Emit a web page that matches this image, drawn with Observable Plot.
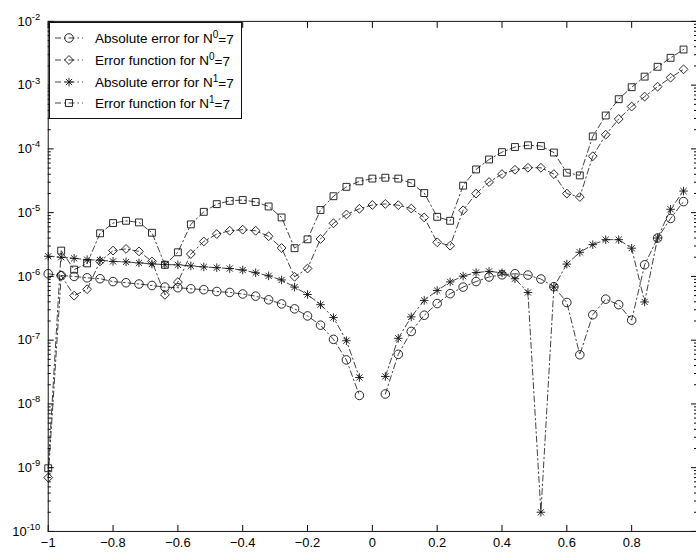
<!DOCTYPE html>
<html>
<head>
<meta charset="utf-8">
<script src="https://cdn.jsdelivr.net/npm/d3@7"></script>
<script src="https://cdn.jsdelivr.net/npm/@observablehq/plot@0.6"></script>
<style>
html, body { margin: 0; padding: 0; overflow: hidden; background: #fff; }
#wrap { position: relative; width: 696px; height: 555px; overflow: hidden; }
#wrap svg { display: block; }
</style>
</head>
<body>
<div id="wrap"></div>
<script>
// ---- data ----
const xValues = [-1, -0.96, -0.92, -0.88, -0.84, -0.8, -0.76, -0.72, -0.68, -0.64,
  -0.6, -0.56, -0.52, -0.48, -0.44, -0.4, -0.36, -0.32, -0.28, -0.24,
  -0.2, -0.16, -0.12, -0.08, -0.04, 0, 0.04, 0.08, 0.12, 0.16,
  0.2, 0.24, 0.28, 0.32, 0.36, 0.4, 0.44, 0.48, 0.52, 0.56,
  0.6, 0.64, 0.68, 0.72, 0.76, 0.8, 0.84, 0.88, 0.92, 0.96];

const absErrN0 = [1.10e-6, 1.03e-6, 1.00e-6, 9.5e-7, 9.2e-7, 8.3e-7, 7.96e-7, 7.6e-7, 7.2e-7, 6.8e-7,
  6.65e-7, 6.4e-7, 6.2e-7, 5.8e-7, 5.6e-7, 5.3e-7, 4.9e-7, 4.3e-7, 3.7e-7, 3.1e-7,
  2.4e-7, 1.72e-7, 1.03e-7, 4.9e-8, 1.36e-8, null, 1.43e-8, 6.0e-8, 1.37e-7, 2.46e-7,
  3.75e-7, 5.36e-7, 6.8e-7, 8.3e-7, 9.8e-7, 1.06e-6, 1.10e-6, 1.05e-6, 9.1e-7, 6.9e-7,
  3.9e-7, 5.9e-8, 2.5e-7, 4.4e-7, 3.6e-7, 2.06e-7, 1.52e-6, 4.0e-6, 8.1e-6, 1.49e-5];

const errFnN0 = [7.0e-10, 1.04e-6, 4.99e-7, 6.3e-7, 1.72e-6, 2.54e-6, 2.70e-6, 2.47e-6, 1.72e-6, 5.14e-7,
  8.16e-7, 2.25e-6, 3.53e-6, 4.62e-6, 5.20e-6, 5.40e-6, 5.20e-6, 4.26e-6, 2.79e-6, 9.87e-7,
  1.33e-6, 3.86e-6, 6.81e-6, 9.37e-6, 1.15e-5, 1.32e-5, 1.37e-5, 1.31e-5, 1.16e-5, 8.41e-6,
  3.43e-6, 3.03e-6, 1.09e-5, 1.99e-5, 3.02e-5, 4.02e-5, 4.71e-5, 5.06e-5, 5.06e-5, 4.02e-5,
  1.99e-5, 1.76e-5, 7.67e-5, 1.67e-4, 2.94e-4, 4.61e-4, 6.61e-4, 9.46e-4, 1.31e-3, 1.77e-3];

const absErrN1 = [2.07e-6, 2.0e-6, 1.92e-6, 1.83e-6, 1.80e-6, 1.72e-6, 1.69e-6, 1.63e-6, 1.57e-6, 1.53e-6,
  1.52e-6, 1.46e-6, 1.41e-6, 1.37e-6, 1.33e-6, 1.26e-6, 1.14e-6, 1.02e-6, 8.8e-7, 6.8e-7,
  5.2e-7, 3.6e-7, 2.26e-7, 9.8e-8, 2.6e-8, null, 2.7e-8, 1.07e-7, 2.32e-7, 4.2e-7,
  6.0e-7, 8.2e-7, 1.01e-6, 1.15e-6, 1.20e-6, 1.14e-6, 9.2e-7, 5.6e-7, 2.0e-10, 6.8e-7,
  1.56e-6, 2.39e-6, 3.15e-6, 3.77e-6, 3.77e-6, 2.77e-6, 3.98e-7, 4.0e-6, 1.13e-5, 2.18e-5];

const errFnN1 = [9.8e-10, 2.54e-6, 1.28e-6, 1.60e-6, 4.74e-6, 6.86e-6, 7.45e-6, 7.03e-6, 4.84e-6, 1.52e-6,
  2.39e-6, 6.55e-6, 1.03e-5, 1.36e-5, 1.53e-5, 1.58e-5, 1.47e-5, 1.25e-5, 8.41e-6, 2.77e-6,
  3.82e-6, 1.10e-5, 1.81e-5, 2.54e-5, 3.10e-5, 3.42e-5, 3.53e-5, 3.42e-5, 2.91e-5, 2.03e-5,
  8.6e-6, 7.45e-6, 2.65e-5, 4.76e-5, 6.82e-5, 8.9e-5, 1.07e-4, 1.14e-4, 1.11e-4, 8.77e-5,
  4.23e-5, 3.84e-5, 1.57e-4, 3.34e-4, 6.02e-4, 9.27e-4, 1.36e-3, 1.94e-3, 2.68e-3, 3.62e-3];

const legendLabels = [
  ["Absolute error for N", "0", "=7"],
  ["Error function for N", "0", "=7"],
  ["Absolute error for N", "1", "=7"],
  ["Error function for N", "1", "=7"]
];
const xTicks = [-1, -0.8, -0.6, -0.4, -0.2, 0, 0.2, 0.4, 0.6, 0.8];
const yExponents = [-10, -9, -8, -7, -6, -5, -4, -3, -2];

// ---- helpers ----
const asterisk8 = {
  draw(ctx, size) {
    const r = Math.sqrt(size / Math.PI) * 1.05;
    const d = r * 0.72;
    ctx.moveTo(-r, 0); ctx.lineTo(r, 0);
    ctx.moveTo(0, -r); ctx.lineTo(0, r);
    ctx.moveTo(-d, -d); ctx.lineTo(d, d);
    ctx.moveTo(-d, d); ctx.lineTo(d, -d);
  }
};
const seriesDefs = [
  {values: absErrN0, symbol: "circle", r: 4.3},
  {values: errFnN0, symbol: "diamond2", r: 4.0},
  {values: absErrN1, symbol: asterisk8, r: 4.1},
  {values: errFnN1, symbol: "square", r: 3.9}
];
const rows = seriesDefs.map((s, si) =>
  xValues.map((x, i) => ({x, y: s.values[i], s: si})).filter(d => d.y != null || true));

const yMajor = yExponents.map(e => Math.pow(10, e));
const yMinor = [];
for (const e of yExponents.slice(0, -1)) for (let k = 2; k <= 9; k++) yMinor.push(k * Math.pow(10, e));

const fmtX = d => (d < 0 ? "\u2212" : "") + Math.abs(d);
const fmtY = d => "10^" + Math.round(Math.log10(d));
const dash = "6,3,1.5,3";
const ink = "#111";

const marks = [
  Plot.axisX({anchor: "bottom", ticks: xTicks, tickSize: 0, tickPadding: 6, tickFormat: fmtX, label: null}),
  Plot.axisX({anchor: "bottom", ticks: xTicks, tickSize: -6, tickFormat: () => "", label: null}),
  Plot.axisX({anchor: "top", ticks: xTicks, tickSize: -6, tickFormat: () => "", label: null}),
  Plot.axisY({anchor: "left", ticks: yMajor, tickSize: 0, tickPadding: 8, tickFormat: fmtY, label: null}),
  Plot.axisY({anchor: "left", ticks: yMajor, tickSize: -6, tickFormat: () => "", label: null}),
  Plot.axisY({anchor: "left", ticks: yMinor, tickSize: -3, tickFormat: () => "", label: null}),
  Plot.axisY({anchor: "right", ticks: yMajor, tickSize: -6, tickFormat: () => "", label: null}),
  Plot.axisY({anchor: "right", ticks: yMinor, tickSize: -3, tickFormat: () => "", label: null}),
  Plot.frame({stroke: ink, strokeWidth: 1})
];
seriesDefs.forEach((s, si) => {
  marks.push(Plot.line(rows[si], {x: "x", y: "y", stroke: ink, strokeWidth: 0.8, strokeDasharray: dash}));
});
seriesDefs.forEach((s, si) => {
  marks.push(Plot.dot(rows[si], {x: "x", y: "y", r: s.r, symbol: s.symbol, fill: "none", stroke: ink, strokeWidth: 0.9}));
});

const chart = Plot.plot({
  width: 700, height: 555,
  marginLeft: 48, marginRight: 0, marginTop: 21, marginBottom: 21,
  style: {fontFamily: "'Liberation Sans', Arial, sans-serif", fontSize: "13px", background: "#fff", color: "#000"},
  x: {domain: [-1, 1]},
  y: {type: "log", domain: [1e-10, 1e-2]},
  marks
});

// superscript exponents on y tick labels
const NS = "http://www.w3.org/2000/svg";
chart.querySelectorAll('g[aria-label="y-axis tick label"] text').forEach(t => {
  const txt = t.textContent;
  if (!txt.startsWith("10^")) return;
  const ex = txt.slice(3);
  t.textContent = "";
  const a = document.createElementNS(NS, "tspan"); a.textContent = "10";
  const b = document.createElementNS(NS, "tspan");
  b.setAttribute("dy", "-0.6em"); b.setAttribute("font-size", "9.5"); b.textContent = ex;
  t.append(a, b);
});

document.getElementById("wrap").appendChild(chart);

// legend (inside the axes, top-left)
const lg = d3.select("#wrap").append("svg")
  .attr("width", 194).attr("height", 98)
  .style("position", "absolute").style("left", "49px").style("top", "22px")
  .style("font-family", "'Liberation Sans', Arial, sans-serif");
lg.append("rect").attr("x", 0.5).attr("y", 0.5).attr("width", 192).attr("height", 96)
  .attr("fill", "#fff").attr("stroke", ink);
const rowY = [16, 38, 60, 81];
seriesDefs.forEach((s, i) => {
  const g = lg.append("g").attr("transform", `translate(0,${rowY[i]})`);
  g.append("line").attr("x1", 6).attr("x2", 34).attr("y1", 0).attr("y2", 0)
    .attr("stroke", ink).attr("stroke-width", 0.8).attr("stroke-dasharray", dash);
  const type = typeof s.symbol === "string"
    ? {circle: d3.symbolCircle, square: d3.symbolSquare, diamond2: d3.symbolDiamond2}[s.symbol]
    : s.symbol;
  g.append("path").attr("transform", "translate(20,0)")
    .attr("d", d3.symbol(type, Math.PI * s.r * s.r)())
    .attr("fill", "none").attr("stroke", ink).attr("stroke-width", 0.9);
  const t = g.append("text").attr("x", 46).attr("y", 0).attr("dy", "0.35em")
    .attr("font-size", 13.5).attr("fill", "#000");
  t.append("tspan").text(legendLabels[i][0]);
  t.append("tspan").attr("dy", "-0.45em").attr("font-size", 10).text(legendLabels[i][1]);
  t.append("tspan").attr("dy", "0.45em").text(legendLabels[i][2]);
});
</script>
</body>
</html>
